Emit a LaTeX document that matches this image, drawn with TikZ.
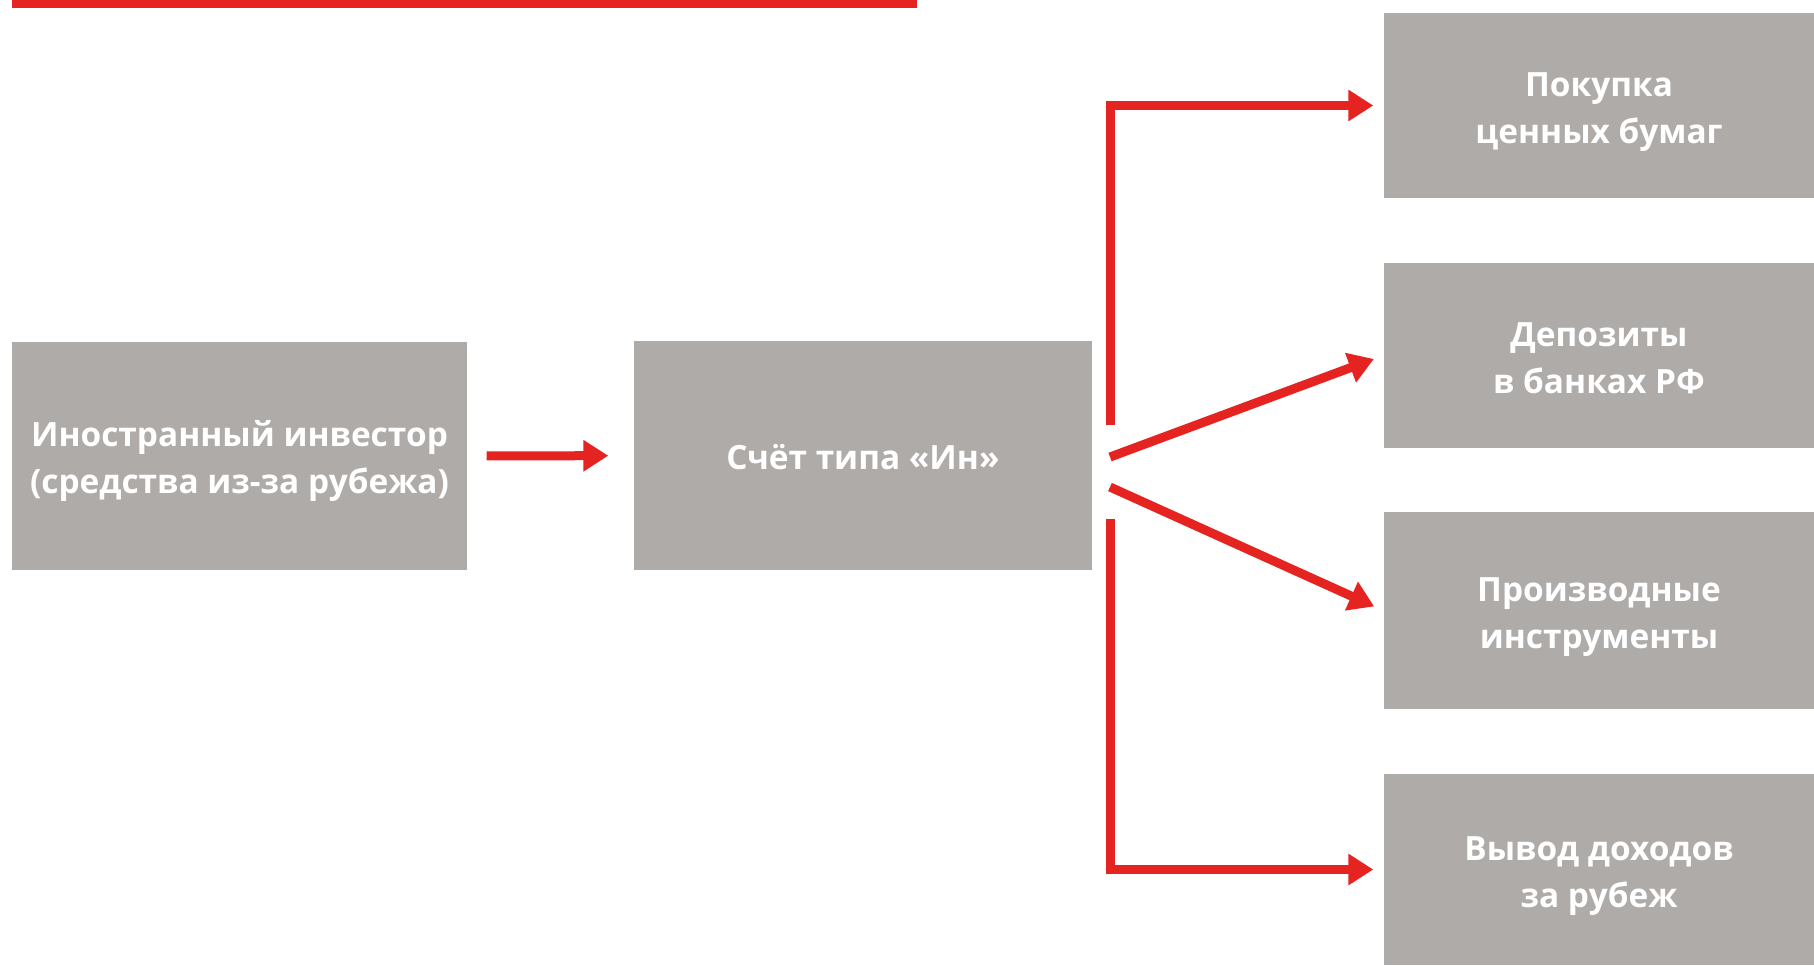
\documentclass[tikz,border=0pt]{standalone}
\usepackage{fontspec}
\setmainfont{Open Sans}
\usetikzlibrary{arrows.meta}
\definecolor{boxgray}{HTML}{AFABA9}
\definecolor{arrred}{HTML}{E52421}
\newcommand\boxtext[1]{\raisebox{-0.5mm}[\height][\depth]{\begin{tabular}{@{}c@{}}#1\end{tabular}}}
\begin{document}
\begin{tikzpicture}[
                x = 0.1mm, y = -0.1mm,
                box/.style = {fill = boxgray, text = white, inner sep = 0mm,
                              font = \bfseries\fontsize{9.5}{13.4}\selectfont},
                arr/.style = {draw = arrred, line width = 0.9mm,
                              -{Triangle[length = 2.5mm, width = 3mm]}},
            ]
            \useasboundingbox (0,0) rectangle (1814,965);
            \fill[arrred] (12,0) rectangle (917,8);

            \node (inv) [box, minimum width = 45.5mm, minimum height = 22.8mm] at (239.5,456)
                {\boxtext{Иностранный инвестор\\(средства из-за рубежа)}};
            \node (acc) [box, minimum width = 45.8mm, minimum height = 22.9mm] at (863,455.5)
                {\boxtext{Счёт типа «Ин»}};

            \node (r1) [box, minimum width = 43mm, minimum height = 18.5mm] at (1599,105.5)
                {\boxtext{Покупка\\ценных бумаг}};
            \node (r2) [box, minimum width = 43mm, minimum height = 18.5mm] at (1599,355.5)
                {\boxtext{Депозиты\\в банках РФ}};
            \node (r3) [box, minimum width = 43mm, minimum height = 19.7mm] at (1599,610.5)
                {\boxtext{Производные\\инструменты}};
            \node (r4) [box, minimum width = 43mm, minimum height = 19.1mm] at (1599,869.5)
                {\boxtext{Вывод доходов\\за рубеж}};

            \coordinate (s1) at (1110,425);
            \coordinate (s2) at (1110,457);
            \coordinate (s3) at (1110,487);
            \coordinate (s4) at (1110,519);

            \path[arr, shorten <= 1.9mm, shorten >= 2.5mm] (inv) -- (acc);
            \path[arr, shorten >= 1mm] (s1) |- (r1);
            \path[arr, shorten >= 1mm] (s2) -- (r2.west);
            \path[arr, shorten >= 1mm] (s3) -- (r3.west);
            \path[arr, shorten >= 1mm] (s4) |- (r4);
        \end{tikzpicture}
\end{document}
